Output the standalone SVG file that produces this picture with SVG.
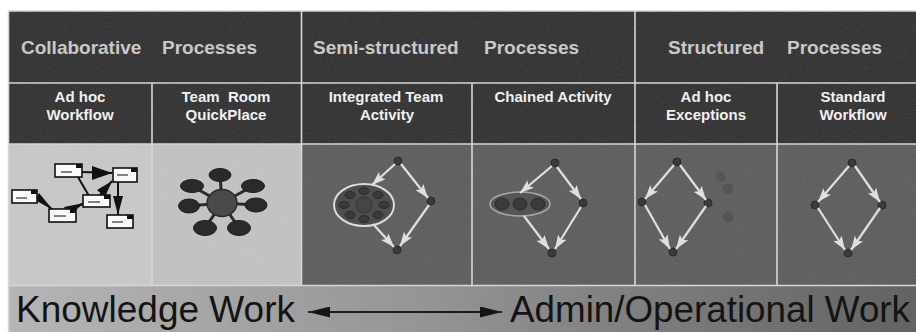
<svg xmlns="http://www.w3.org/2000/svg" width="916" height="332" viewBox="0 0 916 332">
<defs>
<style>
.hdr{font-family:"Liberation Sans",Arial,sans-serif;font-weight:bold;font-size:19px;fill:#c9c9c9}
.sub{font-family:"Liberation Sans",Arial,sans-serif;font-weight:bold;font-size:15px;fill:#f0f0f0;text-anchor:middle}
.big{font-family:"Liberation Sans",Arial,sans-serif;font-size:37px;fill:#141414}
.grid{stroke:#d6d6d6;stroke-width:1.6;fill:none}
.wa{stroke:#e0e0e0;stroke-width:2.2;fill:none;marker-end:url(#wh)}
.dn{fill:#3a3a3a;stroke:#2a2a2a;stroke-width:1}
.box{fill:#fafafa;stroke:#111;stroke-width:1.6}
.tab{fill:#111}
.scr{stroke:#333;stroke-width:1.2}
.blk{fill:#111}
.bl{stroke:#111;stroke-width:2;fill:none}
.tr{fill:#2a2a2a;stroke:#1e1e1e;stroke-width:1}
.trl{stroke:#2a2a2a;stroke-width:3}
</style>
<marker id="wh" markerUnits="userSpaceOnUse" markerWidth="14" markerHeight="10" refX="14" refY="5" orient="auto">
<path d="M0,0 L14,5 L0,10 L3,5 z" fill="#e0e0e0"/>
</marker>
<marker id="bh" markerUnits="userSpaceOnUse" markerWidth="22" markerHeight="11" refX="22" refY="5.5" orient="auto">
<path d="M0,0 L22,5.5 L0,11 z" fill="#151515"/>
</marker>
<linearGradient id="band" x1="0" y1="0" x2="1" y2="0">
<stop offset="0" stop-color="#b5b5b5"/>
<stop offset="0.45" stop-color="#929292"/>
<stop offset="1" stop-color="#5a5a5a"/>
</linearGradient>
<filter id="grain" x="0" y="0" width="100%" height="100%">
<feTurbulence type="fractalNoise" baseFrequency="0.9" numOctaves="2" seed="3"/>
<feColorMatrix type="matrix" values="0 0 0 0 0.5  0 0 0 0 0.5  0 0 0 0 0.5  0 0 0 0.35 0"/>
</filter>
</defs>
<rect x="0" y="0" width="916" height="332" fill="#ffffff"/>
<g id="backgrounds">
<rect x="8" y="11" width="908" height="133" fill="#2c2c2c"/>
<rect x="8" y="144" width="144" height="141" fill="#c9c9c9"/>
<rect x="152" y="144" width="149" height="141" fill="#c3c3c3"/>
<rect x="301" y="144" width="615" height="141" fill="#595959"/>
<rect x="8" y="285" width="908" height="47" fill="url(#band)"/>
<rect x="8" y="11" width="908" height="321" filter="url(#grain)" opacity="0.5"/>
</g>
<g id="grid">
<line class="grid" x1="8" y1="11" x2="916" y2="11"/>
<line class="grid" x1="8" y1="83" x2="916" y2="83"/>
<line class="grid" x1="8" y1="144" x2="916" y2="144"/>
<line class="grid" x1="8" y1="285.5" x2="916" y2="285.5"/>
<line class="grid" x1="8.5" y1="11" x2="8.5" y2="332"/>
<line class="grid" x1="301.5" y1="11" x2="301.5" y2="285"/>
<line class="grid" x1="635" y1="11" x2="635" y2="285"/>
<line class="grid" x1="152" y1="83" x2="152" y2="285"/>
<line class="grid" x1="472" y1="83" x2="472" y2="285"/>
<line class="grid" x1="777" y1="83" x2="777" y2="285"/>
</g>
<g id="headers">
<text class="hdr" x="21" y="54">Collaborative</text>
<text class="hdr" x="162" y="54">Processes</text>
<text class="hdr" x="313" y="54">Semi-structured</text>
<text class="hdr" x="484" y="54">Processes</text>
<text class="hdr" x="668" y="54">Structured</text>
<text class="hdr" x="787" y="54">Processes</text>
</g>
<g id="col-adhoc-workflow">
<text class="sub" x="80" y="102">Ad hoc</text>
<text class="sub" x="80" y="120">Workflow</text>
</g>
<g id="col-team-room">
<text class="sub" x="226" y="102" style="white-space:pre">Team  Room</text>
<text class="sub" x="226" y="120">QuickPlace</text>
</g>
<g id="col-integrated-team">
<text class="sub" x="386" y="102">Integrated Team</text>
<text class="sub" x="387" y="120">Activity</text>
</g>
<g id="col-chained">
<text class="sub" x="553" y="102">Chained Activity</text>
</g>
<g id="col-adhoc-exceptions">
<text class="sub" x="706" y="102">Ad hoc</text>
<text class="sub" x="706" y="120">Exceptions</text>
</g>
<g id="col-standard">
<text class="sub" x="853" y="102">Standard</text>
<text class="sub" x="853" y="120">Workflow</text>
</g>
<g id="adhoc-diagram">
<g id="aw-connectors">
<line class="bl" x1="82" y1="172" x2="112" y2="173"/>
<polygon class="blk" points="92,166 92,180 112,173"/>
<line class="bl" x1="78" y1="177" x2="89" y2="196"/>
<line class="bl" x1="100" y1="195" x2="112" y2="181"/>
<polygon class="blk" points="97,190 105,197 112,181"/>
<line class="bl" x1="118" y1="182" x2="118" y2="215"/>
<polygon class="blk" points="113,196 123,196 118,215"/>
<line class="bl" x1="37" y1="197" x2="53" y2="210"/>
<polygon class="blk" points="39,193 35,200 53,210"/>
<line class="bl" x1="67" y1="212" x2="84" y2="203"/>
<polygon class="blk" points="64,207 70,215 84,203"/>
</g>
<g id="aw-a"><rect class="box" x="55" y="164" width="27" height="13"/><rect class="tab" x="76" y="164" width="6" height="4"/><line class="scr" x1="61" y1="172" x2="72" y2="172"/></g>
<g id="aw-b"><rect class="box" x="113" y="168" width="24" height="14"/><rect class="tab" x="131" y="168" width="6" height="4"/><line class="scr" x1="117" y1="175" x2="128" y2="175"/></g>
<g id="aw-c"><rect class="box" x="12" y="190" width="25" height="13"/><rect class="tab" x="31" y="190" width="6" height="4"/><line class="scr" x1="16" y1="198" x2="27" y2="198"/></g>
<g id="aw-d"><rect class="box" x="83" y="195" width="27" height="12"/><rect class="tab" x="104" y="195" width="6" height="4"/><line class="scr" x1="88" y1="202" x2="100" y2="202"/></g>
<g id="aw-e"><rect class="box" x="49" y="209" width="27" height="13"/><rect class="tab" x="70" y="209" width="6" height="4"/><line class="scr" x1="54" y1="216" x2="66" y2="216"/></g>
<g id="aw-f"><rect class="box" x="107" y="215" width="26" height="13"/><rect class="tab" x="127" y="215" width="6" height="4"/><line class="scr" x1="112" y1="222" x2="123" y2="222"/></g>
</g>
<g id="teamroom-diagram">
<g id="tr-connectors">
<line class="trl" x1="222" y1="203" x2="220" y2="175"/>
<line class="trl" x1="222" y1="203" x2="192" y2="186"/>
<line class="trl" x1="222" y1="203" x2="253" y2="186"/>
<line class="trl" x1="222" y1="203" x2="189" y2="206"/>
<line class="trl" x1="222" y1="203" x2="256" y2="205"/>
<line class="trl" x1="222" y1="203" x2="205" y2="228"/>
<line class="trl" x1="222" y1="203" x2="239" y2="228"/>
</g>
<ellipse class="tr" cx="220" cy="175" rx="11" ry="6.5"/>
<ellipse class="tr" cx="192" cy="186" rx="11.5" ry="6.5"/>
<ellipse class="tr" cx="253" cy="186" rx="11.5" ry="6.5"/>
<ellipse class="tr" cx="189" cy="206" rx="10.5" ry="7" fill="#181818"/>
<ellipse class="tr" cx="256" cy="205" rx="11" ry="7"/>
<ellipse class="tr" cx="205" cy="228" rx="11.5" ry="7.5" fill="#181818"/>
<ellipse class="tr" cx="239" cy="228" rx="11.5" ry="7.5"/>
<ellipse id="tr-center" cx="222" cy="203" rx="15" ry="13.5" fill="#4a4a4a" stroke="#2a2a2a" stroke-width="1.5"/>
</g>
<g id="integrated-diagram">
<circle class="dn" id="it-top" cx="398" cy="161" r="4"/>
<circle class="dn" id="it-right" cx="431" cy="201" r="4"/>
<circle class="dn" id="it-bottom" cx="397" cy="250" r="4"/>
<g id="it-cluster">
<ellipse cx="364" cy="205" rx="30" ry="21" fill="#4e4e4e" stroke="#dcdcdc" stroke-width="2"/>
<ellipse class="dn" cx="364" cy="191" rx="5" ry="3.5"/>
<ellipse class="dn" cx="378" cy="195" rx="5" ry="3.5"/>
<ellipse class="dn" cx="384" cy="205" rx="5" ry="3.5"/>
<ellipse class="dn" cx="378" cy="215" rx="5" ry="3.5"/>
<ellipse class="dn" cx="364" cy="219" rx="5" ry="3.5"/>
<ellipse class="dn" cx="350" cy="215" rx="5" ry="3.5"/>
<ellipse class="dn" cx="344" cy="205" rx="5" ry="3.5"/>
<ellipse class="dn" cx="350" cy="195" rx="5" ry="3.5"/>
<circle cx="364" cy="205" r="8" fill="#454545" stroke="#333" stroke-width="1"/>
</g>
</g>
<g id="chained-diagram">
<circle class="dn" id="ch-top" cx="555" cy="163" r="4"/>
<circle class="dn" id="ch-right" cx="583" cy="203" r="4"/>
<circle class="dn" id="ch-bottom" cx="552" cy="253" r="4"/>
<g id="ch-cluster">
<ellipse cx="520" cy="204" rx="30" ry="12" fill="#555" stroke="#a8a8a8" stroke-width="1.5"/>
<ellipse class="dn" cx="502" cy="204" rx="7" ry="6"/>
<ellipse class="dn" cx="520" cy="204" rx="7" ry="6"/>
<ellipse class="dn" cx="538" cy="204" rx="7" ry="6"/>
</g>
</g>
<g id="exceptions-diagram">
<circle class="dn" id="ex-top" cx="677" cy="162" r="4"/>
<circle class="dn" id="ex-left" cx="642" cy="202" r="4"/>
<circle class="dn" id="ex-right" cx="708" cy="203" r="4"/>
<circle class="dn" id="ex-bottom" cx="673" cy="252" r="4"/>
<g id="ex-faint" opacity="0.3">
<circle cx="721" cy="177" r="5" fill="#3a3a3a"/>
<circle cx="728" cy="189" r="5.5" fill="#3a3a3a"/>
<circle cx="728" cy="217" r="5.5" fill="#3a3a3a"/>
</g>
</g>
<g id="standard-diagram">
<circle class="dn" id="sw-top" cx="852" cy="163" r="4"/>
<circle class="dn" id="sw-left" cx="815" cy="205" r="4"/>
<circle class="dn" id="sw-right" cx="882" cy="205" r="4"/>
<circle class="dn" id="sw-bottom" cx="848" cy="253" r="4"/>
</g>
<g id="connectors">
<line class="wa" x1="395" y1="164" x2="372" y2="185"/>
<line class="wa" x1="401" y1="164" x2="428" y2="198"/>
<line class="wa" x1="429" y1="205" x2="400" y2="246"/>
<line class="wa" x1="373" y1="224" x2="394" y2="247"/>
<line class="wa" x1="552" y1="166" x2="520" y2="193"/>
<line class="wa" x1="557" y1="167" x2="581" y2="199"/>
<line class="wa" x1="581" y1="207" x2="555" y2="249"/>
<line class="wa" x1="524" y1="216" x2="549" y2="249"/>
<line class="wa" x1="674" y1="165" x2="645" y2="199"/>
<line class="wa" x1="680" y1="165" x2="706" y2="200"/>
<line class="wa" x1="645" y1="205" x2="670" y2="249"/>
<line class="wa" x1="706" y1="206" x2="676" y2="249"/>
<line class="wa" x1="849" y1="166" x2="818" y2="202"/>
<line class="wa" x1="855" y1="166" x2="880" y2="202"/>
<line class="wa" x1="818" y1="208" x2="845" y2="250"/>
<line class="wa" x1="880" y1="208" x2="851" y2="250"/>
</g>
<g id="spectrum">
<text class="big" x="16" y="322">Knowledge Work</text>
<line x1="330" y1="312" x2="480" y2="312" stroke="#151515" stroke-width="1.5"/>
<line x1="400" y1="312" x2="308" y2="312" stroke="#151515" stroke-width="1.5" marker-end="url(#bh)"/>
<line x1="400" y1="312" x2="502" y2="312" stroke="#151515" stroke-width="1.5" marker-end="url(#bh)"/>
<text class="big" x="510" y="322" textLength="400" lengthAdjust="spacingAndGlyphs">Admin/Operational Work</text>
</g>
</svg>
